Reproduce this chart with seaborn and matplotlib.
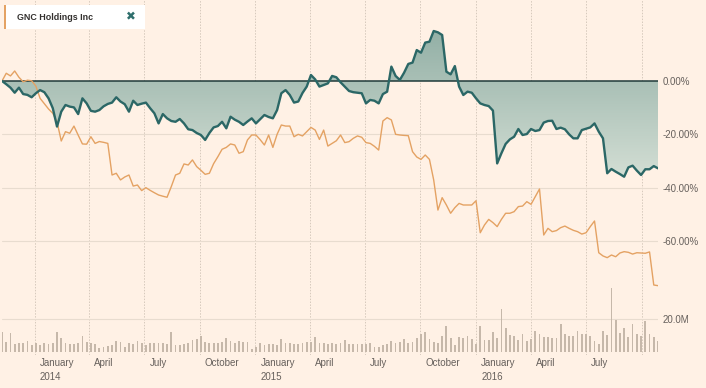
import numpy as np
import pandas as pd
import matplotlib
matplotlib.use("Agg")
import matplotlib.pyplot as plt
import matplotlib.dates as mdates
from matplotlib.colors import LinearSegmentedColormap
from matplotlib.patches import Rectangle
import seaborn as sns

# ---------------- data (weekly) ----------------
start_date = "2013-11-08"

teal_pct = [
    0, -1.2, -2.5, -4.4, -2.5, -4.9, -5.2, -6.1, -4.6, -3.4,
    -4.2, -6.5, -10.2, -17.1, -11.5, -9.0, -9.6, -9.9, -12.4, -6.5,
    -8.4, -11.2, -11.5, -10.9, -9.5, -8.6, -8.1, -6.1, -7.7, -8.7,
    -11.5, -7.4, -9.0, -8.5, -8.1, -10.2, -12.1, -15.9, -12.4, -14.0,
    -15.0, -15.3, -14.25, -15.9, -18.1, -18.4, -19.5, -20.25, -22.1, -19.5,
    -17.4, -16.9, -15.3, -17.75, -13.4, -14.5, -15.3, -16.5, -15.2, -14.0,
    -15.9, -14.3, -12.75, -13.5, -14.0, -10.9, -4.6, -3.4, -5.25, -8.1,
    -7.7, -4.5, -2.1, 2.25, 0.6, -2.1, -1.5, -0.9, 1.9, 1.4,
    -0.5, -2.1, -3.75, -4.2, -4.4, -4.6, -8.4, -7.1, -7.4, -8.4,
    -4.9, -4.0, 5.4, 1.9, 0.4, 3.1, 6.4, 6.9, 11.6, 10.6,
    14.4, 14.75, 18.75, 18.25, 17.25, 3.5, 2.5, 5.6, -2.1, -5.25,
    -4.0, -4.4, -6.5, -8.4, -9.0, -9.4,
    -11.1, -30.9, -27.1, -23.6, -21.9, -20.9, -18.0, -20.25, -19.9, -18.0,
    -18.75, -18.4, -15.6, -15.0, -14.9, -18.0, -17.5, -18.1, -20.0, -21.5,
    -21.5, -18.4, -17.9, -17.4, -15.9, -19.0, -21.5, -34.6, -33.0, -34.0,
    -34.9, -35.9, -32.4, -31.75, -33.6, -35.25, -33.1, -33.1, -31.9, -32.75,
]

gnc_pct = [
    0, 2.9, 1.9, 3.75, 1.4, -0.3, 0.3, 0.1, -1.9, -6.5,
    -8.5, -10.5, -12.1, -15.3, -22.5, -19.0, -19.6, -16.9, -20.3, -23.6,
    -23.7, -20.9, -23.4, -22.7, -23.0, -23.4, -35.25, -34.6, -37.1, -36.0,
    -35.25, -39.4, -39.0, -41.1, -40.0, -41.0, -41.9, -42.75, -43.2, -43.6,
    -39.6, -35.25, -34.6, -31.1, -31.5, -29.6, -32.1, -33.5, -35.0, -34.6,
    -31.0, -28.4, -25.6, -24.9, -23.6, -24.0, -27.1, -26.5, -22.1, -20.25,
    -20.25, -22.0, -24.0, -20.25, -24.9, -20.0, -16.5, -16.9, -16.9, -20.9,
    -20.0, -20.6, -19.0, -17.4, -18.4, -21.9, -18.4, -24.4, -23.4, -22.4,
    -20.25, -23.1, -22.75, -21.5, -20.6, -21.1, -23.1, -23.4, -24.5, -25.9,
    -15.0, -13.75, -14.6, -20.0, -20.25, -20.4, -20.5, -26.5, -28.5, -29.4,
    -27.75, -29.4, -37.1, -48.4, -43.75, -46.5, -49.6, -47.5, -45.9, -46.5,
    -46.5, -46.5, -44.9, -56.9, -54.0, -51.9, -53.1, -54.6, -51.9, -49.6,
    -49.6, -49.0, -47.1, -46.9, -45.25, -46.25, -43.4, -40.5, -57.75, -55.25,
    -56.5, -56.1, -55.0, -54.4, -55.25, -56.0, -56.5, -57.4, -56.9, -54.6,
    -52.5, -64.4, -65.6, -66.25, -65.25, -65.9, -64.5, -64.0, -64.25, -64.9,
    -64.4, -64.5, -64.6, -64.1, -76.5, -76.75,
]

volume_m = [
    12.4, 6.3, 11.4, 4.9, 5.3, 5.3, 6.9, 4.3, 5.3, 4.3,
    5.3, 4.9, 5.7, 12.4, 8.8, 5.7, 4.7, 4.9, 5.3, 9.8,
    6.3, 5.7, 4.9, 2.2, 3.3, 3.9, 4.3, 6.9, 5.9, 3.3,
    5.7, 4.9, 6.9, 5.7, 4.3, 5.3, 5.7, 5.3, 5.3, 4.7,
    12.4, 4.3, 4.3, 4.9, 5.3, 7.3, 7.8, 9.8, 6.3, 5.3,
    5.3, 5.3, 6.3,
    8.8, 6.9, 5.7, 6.9, 5.9, 6.3, 1.6, 3.3, 5.7, 4.3,
    4.7, 4.9, 4.3, 8.0, 5.3, 5.7, 4.9, 4.9, 5.7, 6.3,
    6.3, 9.0, 5.3, 5.3, 4.9, 5.3, 4.7, 5.3, 7.3, 4.7,
    4.9, 4.7, 4.9, 4.9, 5.3, 2.9, 3.3, 4.3, 4.7, 6.9,
    5.3, 6.3, 7.8, 5.3, 6.3, 8.4, 10.8, 12.4, 7.8, 6.3,
    5.7,
    9.8, 15.9, 8.6, 4.1, 9.2, 8.8, 9.8, 7.8, 5.1, 15.7,
    7.6, 7.6, 12.2, 8.8, 26.1, 14.7, 10.6, 9.8, 7.6, 11.2,
    6.5, 8.2, 12.9, 10.8, 9.2, 9.2, 8.8, 8.6, 17.3, 11.2,
    9.8, 9.6, 12.9, 11.2, 10.8, 9.8, 6.7, 5.1, 12.9, 10.6,
    39.2, 19.8, 11.8, 14.7, 9.2, 17.3, 11.2, 9.8, 18.8, 11.2,
    9.2, 6.7,
]

tick_dates = ["2014-01-01", "2014-04-01", "2014-07-01", "2014-10-01",
              "2015-01-01", "2015-04-01", "2015-07-01", "2015-10-01",
              "2016-01-01", "2016-04-01", "2016-07-01"]
tick_labels = ["January\n2014", "April", "July", "October",
               "January\n2015", "April", "July", "October",
               "January\n2016", "April", "July"]
extra_grid_dates = ["2016-10-01"]
price_ticks = [0, -20, -40, -60]
volume_ticks = [20]
legend_name = "GNC Holdings Inc"

# ---------------- build frame ----------------
dates = pd.date_range(start_date, periods=len(teal_pct), freq="7D")
xnum = mdates.date2num(dates.to_pydatetime())
df = pd.DataFrame({"x": xnum, "teal": teal_pct, "gnc": gnc_pct, "vol": volume_m})

sns.set_theme(style="white")
plt.rcParams["font.family"] = ["Liberation Sans", "DejaVu Sans"]

BG = "#FFF1E5"
TEAL = "#2B6766"
ORANGE = "#E4A263"
GRID = "#E8DCCF"
VGRID = "#D6C9BC"
TXT = "#66605C"

W, H = 706, 388
fig = plt.figure(figsize=(W / 100, H / 100), dpi=100, facecolor=BG)
ax_vol = fig.add_axes([2 / W, 33 / H, 656 / W, 355 / H])
ax_vol.set_facecolor(BG)
ax = ax_vol.twinx()
ax.patch.set_visible(False)

# vertical dotted grid
for d in tick_dates + extra_grid_dates:
    ax_vol.axvline(mdates.date2num(pd.Timestamp(d)), color=VGRID, lw=0.7,
                   ls=(0, (1.5, 1.5)), zorder=0)
ax_vol.axhline(20, color=GRID, lw=0.8, zorder=0)

# volume bars
sns.barplot(data=df, x="x", y="vol", native_scale=True, width=0.42,
            color="#C6B8AA", saturation=1, linewidth=0, ax=ax_vol, zorder=1)

# price gridlines
for v in price_ticks[1:]:
    ax.axhline(v, color=GRID, lw=0.8, zorder=0)

# gradient area fill between teal line and zero
poly = ax.fill_between(df["x"], df["teal"], 0, facecolor="none", edgecolor="none")
path = poly.get_paths()[0]
cmap = LinearSegmentedColormap.from_list("g", ["#D3DED4", "#93B0A6"])
grad = np.linspace(0, 1, 256).reshape(-1, 1)
im = ax.imshow(grad, extent=[xnum[0], xnum[-1], min(teal_pct), max(teal_pct)],
               origin="lower", cmap=cmap, aspect="auto", zorder=1)
im.set_clip_path(path, transform=ax.transData)

ax.axhline(0, color="#1F3A3A", lw=1.1, zorder=3)
sns.lineplot(data=df, x="x", y="gnc", color=ORANGE, lw=1.0, ax=ax, zorder=4)
sns.lineplot(data=df, x="x", y="teal", color=TEAL, lw=1.7, ax=ax, zorder=5)

# limits
ax_vol.set_xlim(xnum[0], xnum[-1])
ax.set_xlim(xnum[0], xnum[-1])
ax.set_ylim((81 - 355) * 0.375, 81 * 0.375)
ax_vol.set_ylim(-3 * 0.6116, 352 * 0.6116)

# ticks
ax.set_yticks(price_ticks)
ax.set_yticklabels([f"{v:.2f}%" for v in price_ticks])
ax.yaxis.tick_right()
ax.tick_params(axis="y", length=0, pad=3.6, labelsize=7, labelcolor=TXT)
ax_vol.yaxis.tick_right()
ax_vol.set_yticks(volume_ticks)
ax_vol.set_yticklabels([f"{v:.1f}M" for v in volume_ticks])
ax_vol.tick_params(axis="y", length=0, pad=3.6, labelsize=7, labelcolor=TXT)
ax_vol.set_xticks([])
ax.set_xticks([])
for a in (ax, ax_vol):
    a.set_xlabel("")
    a.set_ylabel("")
    for s in a.spines.values():
        s.set_visible(False)

for d, lab in zip(tick_dates, tick_labels):
    ax_vol.annotate(lab, xy=(mdates.date2num(pd.Timestamp(d)), 0),
                    xycoords=("data", "axes fraction"), xytext=(3.8, -2.5),
                    textcoords="offset points", ha="left", va="top",
                    fontsize=7, color=TXT, linespacing=1.45, annotation_clip=False)

# legend box
fig.add_artist(Rectangle((6 / W, 1 - 29 / H), 139 / W, 24 / H, transform=fig.transFigure,
                         facecolor="white", edgecolor="none", zorder=10))
fig.add_artist(Rectangle((3.5 / W, 1 - 29 / H), 2.5 / W, 24 / H, transform=fig.transFigure,
                         facecolor=ORANGE, edgecolor="none", zorder=11))
fig.text(17 / W, 1 - 17 / H, legend_name, fontsize=6.4, fontweight="bold",
         color="#33302E", va="center", ha="left", zorder=12)
fig.text(130.5 / W, 1 - 17 / H, "\u2716", fontsize=8.5, color="#2E6E6C",
         va="center", ha="center", family=["DejaVu Sans"], zorder=12)

fig.savefig("out.png", dpi=100, facecolor=BG)
